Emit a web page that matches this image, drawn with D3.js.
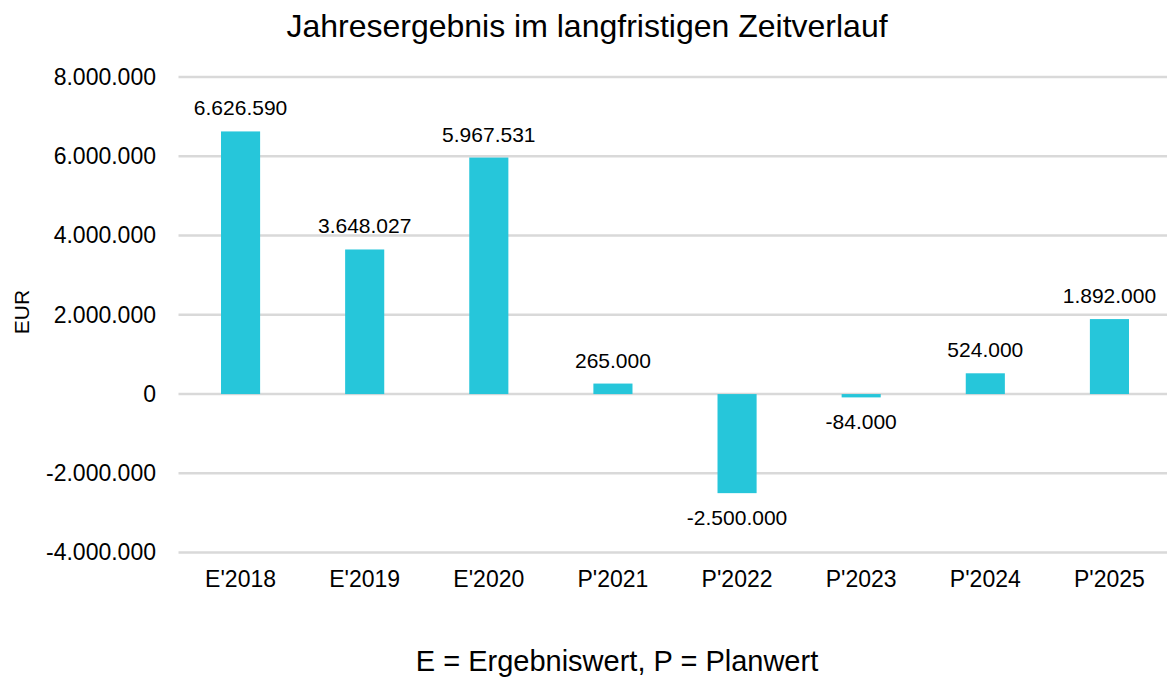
<!DOCTYPE html>
<html>
<head>
<meta charset="utf-8">
<script src="https://cdn.jsdelivr.net/npm/d3@7"></script>
<style>
  body { margin: 0; background: #fff; }
  text { font-family: "Liberation Sans", Arial, sans-serif; fill: #000; }
</style>
</head>
<body>
<div id="chart"></div>
<script>
var categories = ["E'2018", "E'2019", "E'2020", "P'2021", "P'2022", "P'2023", "P'2024", "P'2025"];
var values = [6626590, 3648027, 5967531, 265000, -2500000, -84000, 524000, 1892000];
var yTicks = [-4000000, -2000000, 0, 2000000, 4000000, 6000000, 8000000];

var width = 1167, height = 678;

var svg = d3.select("#chart").append("svg")
    .attr("width", width)
    .attr("height", height);

// german number format: 6.626.590, plain hyphen as minus
var fmt = d3.formatLocale({ decimal: ",", thousands: ".", grouping: [3], currency: ["", " €"], minus: "-" }).format(",.0f");

var x = d3.scaleBand()
    .domain(categories)
    .range([178.5, 1171.5])
    .paddingInner(0.685)
    .paddingOuter(0.3425);

var y = d3.scaleLinear()
    .domain([-4000000, 8000000])
    .range([552.6, 77]);

// gridlines
svg.append("g")
    .selectAll("line")
    .data(yTicks)
    .join("line")
    .attr("x1", 178.5)
    .attr("x2", 1171.5)
    .attr("y1", function (d) { return y(d); })
    .attr("y2", function (d) { return y(d); })
    .style("stroke", "#d9d9d9")
    .style("stroke-width", 2.5);

// y axis labels
var yAxis = d3.axisLeft(y).tickValues(yTicks).tickSize(0).tickPadding(0).tickFormat(fmt);
svg.append("g")
    .attr("transform", "translate(156,0)")
    .call(yAxis)
    .call(function (g) { g.select(".domain").remove(); })
    .selectAll("text")
    .style("font-size", "23px")
    .style("font-family", "'Liberation Sans', Arial, sans-serif")
    .attr("fill", "#000");

// bars
svg.append("g")
    .selectAll("rect")
    .data(values)
    .join("rect")
    .attr("x", function (d, i) { return x(categories[i]); })
    .attr("width", x.bandwidth())
    .attr("y", function (d) { return y(Math.max(0, d)); })
    .attr("height", function (d) { return Math.abs(y(d) - y(0)); })
    .style("fill", "#26c6da");

// data labels
svg.append("g")
    .selectAll("text")
    .data(values)
    .join("text")
    .attr("x", function (d, i) { return x(categories[i]) + x.bandwidth() / 2; })
    .attr("y", function (d) { return d >= 0 ? y(d) - 16 : y(d) + 32; })
    .attr("text-anchor", "middle")
    .style("font-size", "21px")
    .text(function (d) { return fmt(d); });

// x axis labels
var xAxis = d3.axisBottom(x).tickSize(0).tickPadding(0);
svg.append("g")
    .attr("transform", "translate(0,571)")
    .call(xAxis)
    .call(function (g) { g.select(".domain").remove(); })
    .selectAll("text")
    .attr("dy", "0.71em")
    .style("font-size", "23px")
    .style("font-family", "'Liberation Sans', Arial, sans-serif")
    .attr("fill", "#000");

// title
svg.append("text")
    .attr("x", 587)
    .attr("y", 37)
    .attr("text-anchor", "middle")
    .style("font-size", "32px")
    .text("Jahresergebnis im langfristigen Zeitverlauf");

// y axis title
svg.append("text")
    .attr("transform", "translate(29,312) rotate(-90)")
    .attr("text-anchor", "middle")
    .style("font-size", "21px")
    .text("EUR");

// footer
svg.append("text")
    .attr("x", 617)
    .attr("y", 671)
    .attr("text-anchor", "middle")
    .style("font-size", "29px")
    .text("E = Ergebniswert, P = Planwert");
</script>
</body>
</html>
